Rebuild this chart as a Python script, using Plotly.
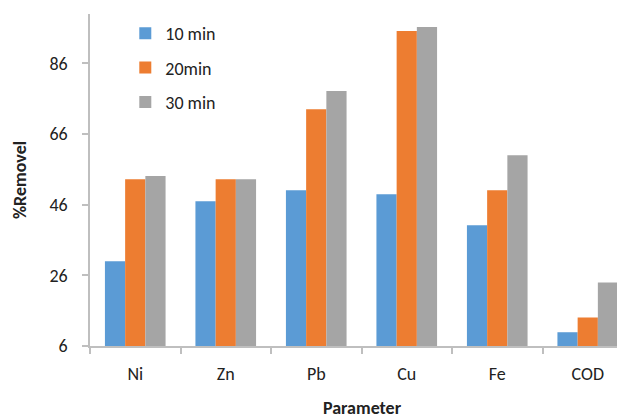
import plotly.graph_objects as go

categories = ["Ni", "Zn", "Pb", "Cu", "Fe", "COD"]
series_names = ["10 min", "20min", "30 min"]
values_10 = [30.0, 47.0, 50.1, 49.0, 40.2, 9.9]
values_20 = [53.2, 53.2, 73.0, 95.2, 50.1, 14.1]
values_30 = [54.1, 53.2, 78.2, 96.3, 60.0, 24.0]
colors = ["#5B9BD5", "#ED7D31", "#A5A5A5"]
y_ticks = [6, 26, 46, 66, 86]

FONT = "Carlito, Calibri, Lato, 'Open Sans', sans-serif"

# page body has an 8px margin; figure positions below compensate for it
L, R, T, B = 82, 0, 6, 81
W, H = 625, 419
PW, PH = W - L - R, H - T - B

fig = go.Figure()
for i, (name, vals) in enumerate(zip(series_names, [values_10, values_20, values_30])):
    fig.add_trace(go.Bar(
        x=categories, y=vals, name=name,
        marker=dict(color=colors[i], line=dict(width=0)),
        legendgroup=f"g{i}",
    ))

fig.update_layout(
    width=W, height=H,
    margin=dict(l=L, r=R, t=T, b=B),
    paper_bgcolor="white", plot_bgcolor="white",
    barmode="group", bargap=0.33, bargroupgap=0,
    font=dict(family=FONT, color="#222222", size=18),
    showlegend=True,
    legend=dict(
        x=0.065, y=1 - 1 / PH, xanchor="left", yanchor="top",
        bgcolor="rgba(0,0,0,0)",
        font=dict(size=18, family=FONT, color="#222222"),
        tracegroupgap=8,
        itemwidth=30,
    ),
    xaxis=dict(
        range=[-0.5, 5.5],
        showline=True, linecolor="#BFBFBF", linewidth=1.5,
        ticks="outside", ticklen=6, tickcolor="#BFBFBF", tickwidth=1.5,
        tickson="boundaries", ticklabelstandoff=11,
        showgrid=False, zeroline=False,
        tickfont=dict(size=18, family=FONT, color="#222222"),
    ),
    yaxis=dict(
        range=[6, 100],
        tickvals=y_ticks,
        showline=True, linecolor="#BFBFBF", linewidth=1.5,
        ticks="outside", ticklen=6, tickcolor="#BFBFBF", tickwidth=1.5,
        ticklabelstandoff=11,
        showgrid=False, zeroline=False,
        tickfont=dict(size=18, family=FONT, color="#222222"),
    ),
    annotations=[
        dict(text="<b>%Removel</b>", x=(12 - L) / PW, xref="paper", xanchor="center",
             y=0.5, yref="paper", yanchor="middle", textangle=-90,
             showarrow=False, font=dict(size=18, family=FONT, color="#222222")),
        dict(text="<b>Parameter</b>", x=(354 - L) / PW, xref="paper", xanchor="center",
             y=-(400 - (T + PH)) / PH, yref="paper", yanchor="middle",
             showarrow=False, font=dict(size=18, family=FONT, color="#222222")),
    ],
)

fig.write_html("out.html")
